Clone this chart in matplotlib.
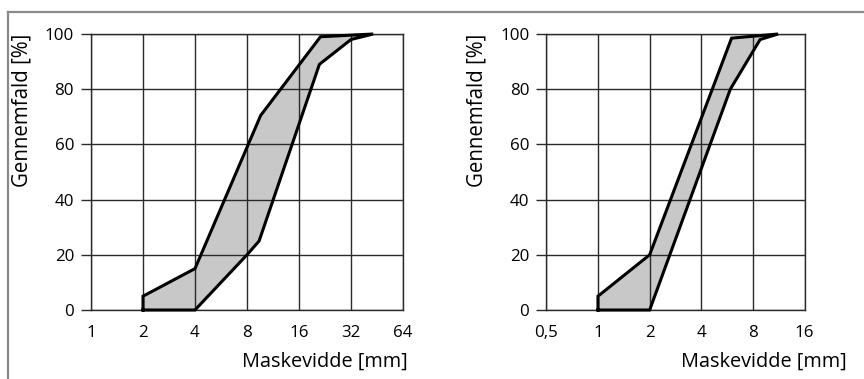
import matplotlib
matplotlib.use("Agg")
import matplotlib.pyplot as plt
from matplotlib.lines import Line2D

plt.rcParams['font.family'] = ['Open Sans', 'DejaVu Sans']

# ---- data ----
left_upper_x = [2, 2, 4, 9.6, 21.3, 43]
left_upper_y = [0, 5, 15, 70.5, 99, 100]
left_lower_x = [2, 4, 8, 9.4, 21, 32, 43]
left_lower_y = [0, 0, 20, 25, 89, 98, 100]
left_xticks = [1, 2, 4, 8, 16, 32, 64]
left_xticklabels = ['1', '2', '4', '8', '16', '32', '64']

right_upper_x = [1, 1, 2, 6.0, 11.2]
right_upper_y = [0, 5, 20, 98.5, 100]
right_lower_x = [1, 2, 5.9, 8.8, 11.2]
right_lower_y = [0, 0, 80, 98, 100]
right_xticks = [0.5, 1, 2, 4, 8, 16]
right_xticklabels = ['0,5', '1', '2', '4', '8', '16']

yticks = [0, 20, 40, 60, 80, 100]
xlabel = 'Maskevidde [mm]'
ylabel = 'Gennemfald [%]'

W, H = 864, 379
fig = plt.figure(figsize=(W / 100, H / 100), dpi=100)

grid_c = '#2a2a2a'
fill_c = '#c8c8c9'


def make_panel(rect, ux, uy, lx, ly, xticks, xticklabels, ylab_x, xlab_x):
    ax = fig.add_axes(rect)
    ax.set_xscale('log', base=2)
    ax.set_xlim(xticks[0], xticks[-1])
    ax.set_ylim(0, 100)
    px = list(ux) + list(lx[::-1])
    py = list(uy) + list(ly[::-1])
    ax.fill(px, py, facecolor=fill_c, edgecolor='none', zorder=1)
    ax.set_xticks(xticks)
    ax.set_xticklabels(xticklabels)
    ax.xaxis.set_minor_locator(plt.NullLocator())
    ax.set_yticks(yticks)
    ax.grid(True, color=grid_c, lw=1.0, zorder=2)
    ax.set_axisbelow(False)
    for s in ax.spines.values():
        s.set_color(grid_c)
        s.set_linewidth(1.0)
        s.set_zorder(2)
    ax.plot(px + [px[0]], py + [py[0]], color='black', lw=2.2,
            solid_joinstyle='miter', zorder=3, clip_on=False)
    ax.tick_params(axis='x', length=0, pad=10.5, labelsize=12.2, colors='black')
    ax.tick_params(axis='y', length=7.2, width=1.0, color=grid_c, pad=5.0,
                   labelsize=12.2, labelcolor='black')
    ax.set_xlabel(xlabel, fontsize=14.3, loc='right')
    ax.xaxis.set_label_coords(xlab_x, -0.152)
    ax.set_ylabel(ylabel, fontsize=14.8, loc='top')
    ax.yaxis.set_label_coords(ylab_x, 1.0)
    return ax


axL = make_panel([91 / W, 69 / H, 312 / W, 276 / H],
                 left_upper_x, left_upper_y, left_lower_x, left_lower_y,
                 left_xticks, left_xticklabels, -0.189, 1.016)
axR = make_panel([546.3 / W, 69 / H, 258.4 / W, 276 / H],
                 right_upper_x, right_upper_y, right_lower_x, right_lower_y,
                 right_xticks, right_xticklabels, -0.229, 1.164)

# frame lines (top and left border of the figure panel)
fig.add_artist(Line2D([7.5 / W, 1.0], [1 - 11.7 / H, 1 - 11.7 / H],
                      transform=fig.transFigure, color='#8a8a8a', lw=1.6))
fig.add_artist(Line2D([7.5 / W, 7.5 / W], [0, 1 - 11.7 / H],
                      transform=fig.transFigure, color='#8a8a8a', lw=1.6))

fig.savefig('out.png', dpi=100)
